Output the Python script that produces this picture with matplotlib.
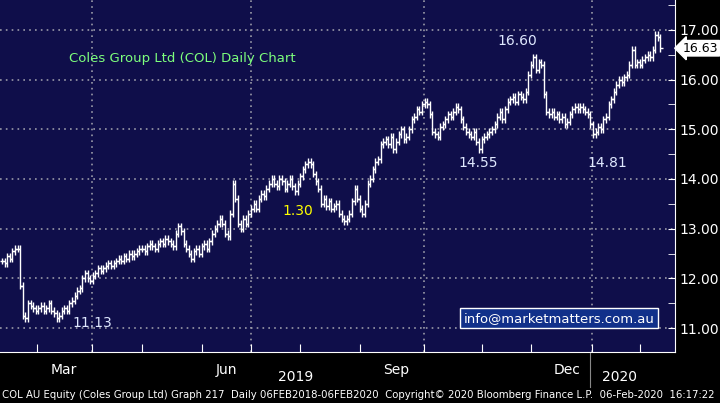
import numpy as np
import matplotlib.pyplot as plt

# daily closes (estimated from the chart), one per trading day
closes = [12.35, 12.3, 12.45, 12.4, 12.55, 12.6, 12.6,
          11.85,
          11.25, 11.2, 11.5, 11.45, 11.4, 11.35, 11.4, 11.45, 11.35, 11.4, 11.5, 11.35, 11.3, 11.2, 11.25,
          11.35, 11.4, 11.35, 11.5, 11.55, 11.65, 11.75, 11.8, 12.0, 12.1, 12.0, 11.95,
          12.05, 12.1, 12.2, 12.15, 12.2, 12.25, 12.3, 12.25, 12.3, 12.35, 12.4, 12.35, 12.45, 12.4, 12.5, 12.45,
          12.5, 12.55, 12.6, 12.6, 12.55, 12.65, 12.7, 12.65, 12.6, 12.7, 12.75, 12.7, 12.8, 12.75, 12.7, 12.65,
          12.9, 13.05, 12.95, 12.7, 12.6, 12.5,
          12.4, 12.55, 12.6, 12.5, 12.65, 12.7, 12.6, 12.75, 12.9, 13.0,
          13.1, 13.2, 13.1, 12.9, 12.85, 13.3, 13.9, 13.6,
          13.1, 13.0, 13.2, 13.1, 13.3, 13.4,
          13.5, 13.4, 13.6, 13.7, 13.65, 13.8, 13.9, 14.0, 13.9, 13.85, 14.0,
          13.95, 13.8, 13.9, 14.0, 13.85, 13.75, 13.9,
          14.05, 14.2, 14.3, 14.35, 14.3, 14.1, 13.95,
          13.8, 13.5, 13.6, 13.45, 13.55, 13.4, 13.45, 13.5, 13.3,
          13.2, 13.15, 13.2, 13.3, 13.55, 13.8,
          13.6, 13.4, 13.3, 13.5, 13.9, 14.0,
          14.2, 14.35, 14.4, 14.7,
          14.75, 14.8, 14.7, 14.85, 14.6, 14.75, 14.9, 15.0, 14.8, 14.85, 15.0,
          15.2, 15.25, 15.4, 15.35, 15.5, 15.55, 15.5, 15.3,
          14.95, 14.9, 14.85, 15.05, 15.1,
          15.2, 15.3, 15.25, 15.35, 15.45, 15.4, 15.2, 15.05,
          14.95, 14.9, 14.85, 14.95, 14.75, 14.6, 14.8, 14.85, 14.9, 14.95,
          15.0, 15.1, 15.25, 15.35, 15.2, 15.4, 15.55,
          15.6, 15.65, 15.55, 15.7, 15.65, 15.6, 15.75,
          16.1, 16.3, 16.45, 16.2, 16.35, 16.3,
          15.7,
          15.35, 15.3, 15.35, 15.25, 15.3, 15.2, 15.25, 15.1, 15.15,
          15.3, 15.4, 15.45, 15.4, 15.45, 15.4, 15.35, 15.3,
          15.1, 14.9, 14.95, 15.05, 15.0, 15.2,
          15.25, 15.5, 15.6, 15.75, 15.9, 16.0,
          15.95, 16.05, 16.1, 16.3, 16.6,
          16.3, 16.35, 16.3, 16.4, 16.45, 16.5,
          16.45, 16.6, 16.9, 16.85, 16.63]

month_labels = ["Mar", "Jun", "Sep", "Dec"]
month_idx = [34.6, 96.2, 162.7, 227.7]
label_idx = [23.8, 86.5, 152, 218]
minor_idx = [13.5, 54, 77, 115, 138, 185, 204, 246]
price_ticks = [11, 12, 13, 14, 15, 16, 17]
notes = [("16.60", 191, 16.78, "#dfe8ff"), ("14.55", 176, 14.33, "#dfe8ff"),
         ("14.81", 226, 14.33, "#dfe8ff"), ("1.30", 108, 13.35, "#ffff00"),
         ("11.13", 27, 11.1, "#dfe8ff")]

bg = "#0f0e4a"
wick = 0.07
c = np.array(closes)
o = np.r_[c[0], c[:-1]]
hi = np.maximum(o, c) + wick
lo = np.minimum(o, c) - wick
idx = np.arange(len(c))

fig = plt.figure(figsize=(7.2, 4.03), dpi=100, facecolor="black")
ax = fig.add_axes([0, 0.1266, 0.9375, 0.8734], facecolor=bg)
ax.set_xlim(-0.8, 259.6)
ax.set_ylim(10.52, 17.6)

for y in price_ticks:
    ax.axhline(y, color="#9a9aa8", ls=(0, (1, 2.5)), lw=1.2, zorder=1)
for x in month_idx:
    ax.axvline(x, color="#9a9aa8", ls=(0, (1, 2.5)), lw=1.2, zorder=1)

ax.vlines(idx, lo, hi, color="white", lw=1, zorder=3)
ax.hlines(o, idx - 0.9, idx, color="white", lw=1, zorder=3)
ax.hlines(c, idx, idx + 0.9, color="white", lw=1, zorder=3)

ax.text(26, 16.35, "Coles Group Ltd (COL) Daily Chart", color="#7dff7d", fontsize=9.5)
for t, x, y, col in notes:
    ax.text(x, y, t, color=col, fontsize=10, ha="left", va="center")
ax.text(178, 11.2, "info@marketmatters.com.au", color="white", fontsize=9.5,
        va="center", bbox=dict(boxstyle="square,pad=0.25", fc="#11308a", ec="white", lw=1))

ax.yaxis.tick_right()
ax.set_yticks(price_ticks)
ax.set_yticklabels([f"{v:.2f}" for v in price_ticks], color="white", fontsize=10)
ax.set_yticks(np.arange(11.5, 17.6, 1), minor=True)
ax.tick_params(axis="y", which="both", colors="white", length=5, direction="in", pad=3)
ax.set_xticks(list(month_idx) + minor_idx)
ax.set_xticklabels([])
ax.tick_params(axis="x", colors="white", length=6, direction="in")
for lab, x in zip(month_labels, label_idx):
    ax.text(x, -0.03, lab, color="white", fontsize=10, ha="center", va="top",
            transform=ax.get_xaxis_transform())
for s in ["top", "left"]:
    ax.spines[s].set_visible(False)
ax.spines["right"].set_color("white")
ax.spines["bottom"].set_color("white")

ax.text(262.6, closes[-1], f"{closes[-1]:.2f}", color="black", fontsize=9,
        va="center", ha="left", zorder=5, clip_on=False,
        bbox=dict(boxstyle="larrow,pad=0.1", fc="white", ec="white"))

fig.text(0.41, 0.055, "2019", color="white", fontsize=10, ha="center")
fig.text(0.86, 0.055, "2020", color="white", fontsize=10, ha="center")
fig.add_artist(plt.Line2D([0.82, 0.82], [0.04, 0.125], color="#888888", lw=0.8))
fig.text(0.003, 0.012, "COL AU Equity (Coles Group Ltd) Graph 217  Daily 06FEB2018-06FEB2020  "
         "Copyright\u00a9 2020 Bloomberg Finance L.P.  06-Feb-2020  16:17:22",
         color="white", fontsize=7.3)

fig.savefig("out.png", dpi=100, facecolor="black")
